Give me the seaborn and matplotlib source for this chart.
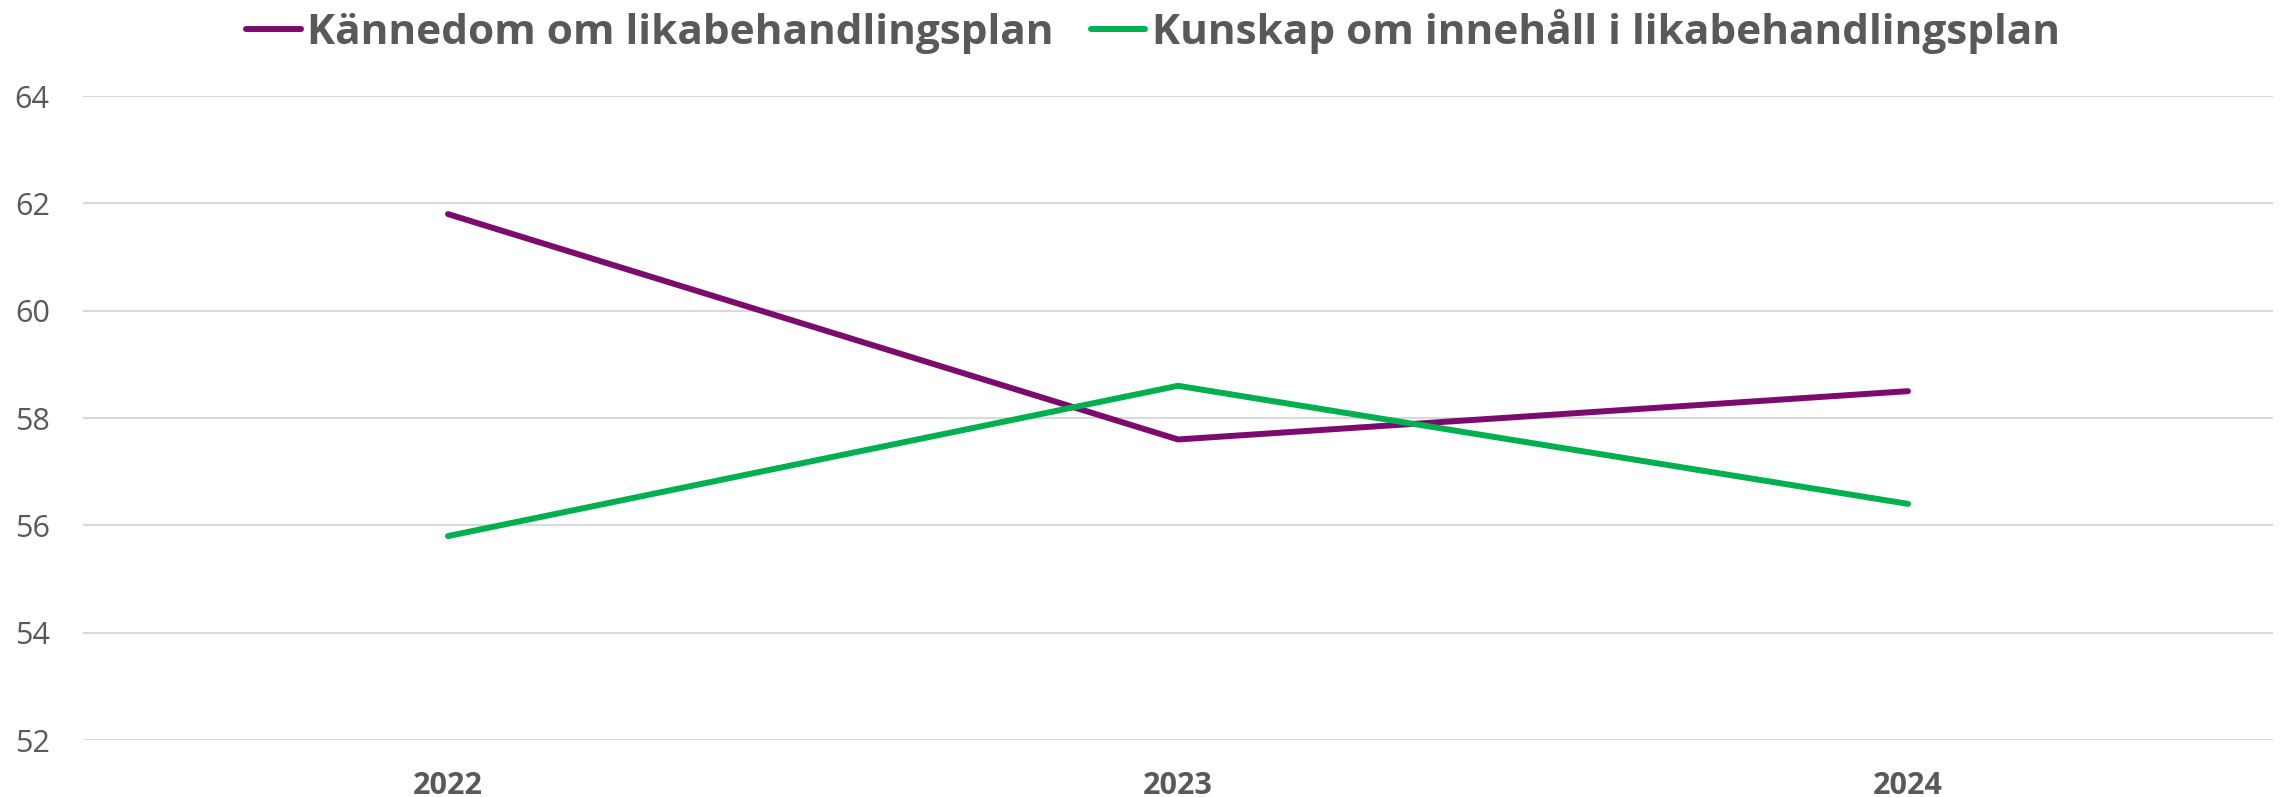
import pandas as pd
import numpy as np
import matplotlib.pyplot as plt
import seaborn as sns

years = ['2022', '2023', '2024']
kannedom = [61.8, 57.6, 58.5]
kunskap = [55.8, 58.6, 56.4]
series_names = ['Kännedom om likabehandlingsplan', 'Kunskap om innehåll i likabehandlingsplan']
colors = ['#7B0C6E', '#00B050']
y_ticks = [52, 54, 56, 58, 60, 62, 64]

df = pd.DataFrame({
    'year': years * 2,
    'value': kannedom + kunskap,
    'series': [series_names[0]] * 3 + [series_names[1]] * 3,
})

sns.set_style('white')
plt.rcParams['font.family'] = ['Open Sans', 'DejaVu Sans']

fig = plt.figure(figsize=(22.83, 7.97), dpi=100)
ax = fig.add_axes([83 / 2283, 1 - 740 / 797, 2190 / 2283, 644 / 797])

sns.lineplot(data=df, x='year', y='value', hue='series', palette=colors,
             linewidth=4.3, ax=ax, legend=False, sort=False)
for line in ax.lines:
    line.set_solid_capstyle('round')

ax.set_xlim(-0.5, 2.5)
ax.set_ylim(52, 64)
ax.set_yticks(y_ticks)
ax.yaxis.grid(True, color='#D9D9D9', linewidth=1.5)
ax.set_axisbelow(True)
for s in ax.spines.values():
    s.set_visible(False)
ax.tick_params(axis='y', length=0, pad=24, labelsize=22, labelcolor='#595959')
ax.tick_params(axis='x', length=0, pad=22, labelsize=22, labelcolor='#595959')
for lbl in ax.get_xticklabels():
    lbl.set_fontweight('bold')
ax.set_xlabel('')
ax.set_ylabel('')

# legend on top
handles = [plt.Line2D([], [], color=c, linewidth=4.3, solid_capstyle='round') for c in colors]
leg = fig.legend(handles, series_names, loc='center', bbox_to_anchor=(1153 / 2283, 1 - 31 / 797),
                 ncol=2, frameon=False, handlelength=1.28, handletextpad=0.16,
                 columnspacing=0.87, prop={'size': 30.5, 'weight': 'bold'})
for t in leg.get_texts():
    t.set_color('#595959')

fig.savefig('out.png', dpi=100)
